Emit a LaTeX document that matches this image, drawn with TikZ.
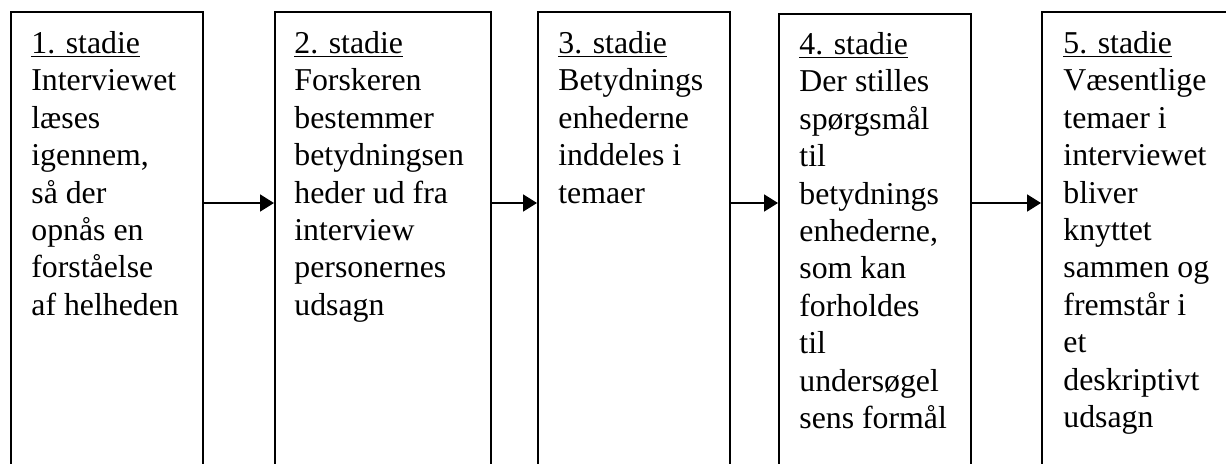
\documentclass[tikz,border=0pt]{standalone}
\usepackage{fontspec}
\setmainfont{Liberation Serif}
\usetikzlibrary{arrows.meta}
\begin{document}
\begin{tikzpicture}[x=0.5pt,y=-0.5pt,
  stagebox/.style={draw=black, line width=0.9pt, rectangle, anchor=north west, inner sep=0pt, minimum height=234.5pt},
  stagetxt/.style={anchor=north west, align=left, inner sep=0pt, font=\fontsize{15.9pt}{18.7pt}\selectfont},
  flowarr/.style={draw=black, line width=0.9pt, -{Triangle[length=7pt,width=8.5pt]}}]
\useasboundingbox (0,0) rectangle (1226,463);
\clip (0,0) rectangle (1226,463);
\node[stagebox, minimum width=96pt] (b1) at (10,11) {};
\node[stagebox, minimum width=108pt] (b2) at (274,11) {};
\node[stagebox, minimum width=96pt] (b3) at (537,11) {};
\node[stagebox, minimum width=96pt] (b4) at (778,13) {};
\node[stagebox, minimum width=110pt] (b5) at (1041,11) {};
\coordinate (ay) at (0,203);
\node[stagetxt] (t1) at (31,31) {\underline{1. stadie}\\Interviewet\\læses\\igennem,\\så der\\opnås en\\forståelse\\af helheden};
\node[stagetxt] (t2) at (294,31) {\underline{2. stadie}\\Forskeren\\bestemmer\\betydningsen\\heder ud fra\\interview\\personernes\\udsagn};
\node[stagetxt] (t3) at (558,31) {\underline{3. stadie}\\Betydnings\\enhederne\\inddeles i\\temaer};
\node[stagetxt] (t4) at (799,32) {\underline{4. stadie}\\Der stilles\\spørgsmål\\til\\betydnings\\enhederne,\\som kan\\forholdes\\til\\undersøgel\\sens formål};
\node[stagetxt] (t5) at (1063,31) {\underline{5. stadie}\\Væsentlige\\temaer i\\interviewet\\bliver\\knyttet\\sammen og\\fremstår i\\et\\deskriptivt\\udsagn};
\draw[flowarr] (b1.east |- ay) -- (b2.west |- ay);
\draw[flowarr] (b2.east |- ay) -- (b3.west |- ay);
\draw[flowarr] (b3.east |- ay) -- (b4.west |- ay);
\draw[flowarr] (b4.east |- ay) -- (b5.west |- ay);
\end{tikzpicture}
\end{document}
